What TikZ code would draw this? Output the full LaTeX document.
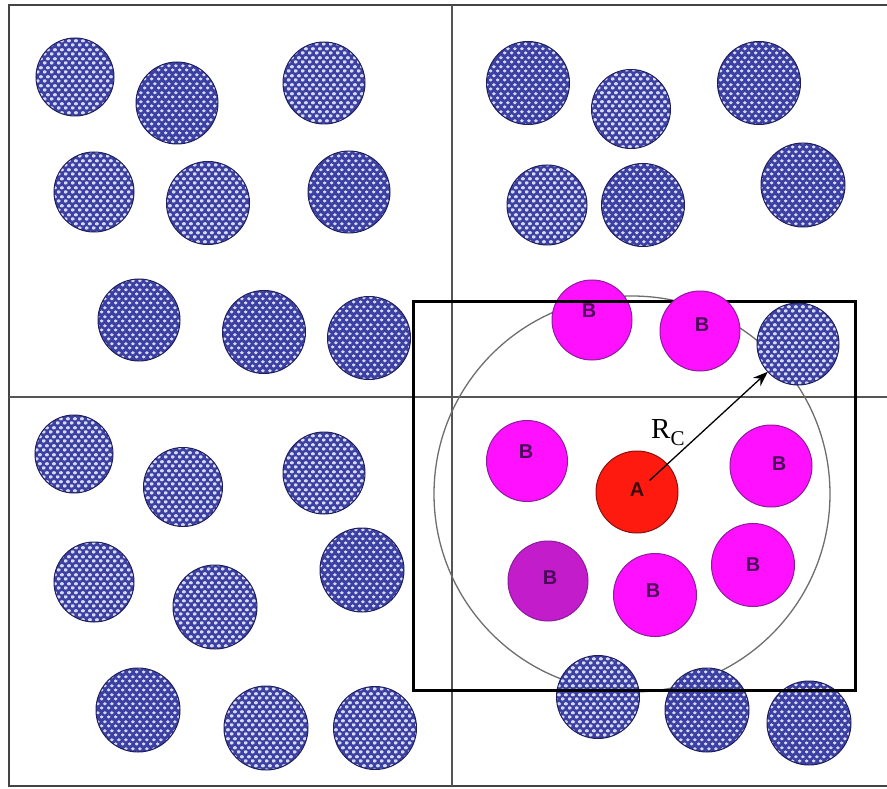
\documentclass[tikz,border=0pt]{standalone}
\usepackage{fontspec}
\newfontfamily\labfont{Liberation Sans}
\newfontfamily\rfont{Liberation Serif}
\usetikzlibrary{patterns.meta,arrows.meta}
\definecolor{navyc}{HTML}{3B40A2}
\definecolor{dotc}{HTML}{D8DAF2}
\definecolor{navyedge}{HTML}{1E1F5C}
\definecolor{magc}{HTML}{FF10FF}
\definecolor{magdark}{HTML}{C21CCB}
\definecolor{magedge}{HTML}{8C1C9C}
\definecolor{redc}{HTML}{FF1A10}
\definecolor{rededge}{HTML}{8A1010}
\definecolor{labc}{HTML}{4A0A58}
\definecolor{alab}{HTML}{3A0A10}
\definecolor{framec}{HTML}{444444}
\definecolor{divc}{HTML}{555555}
\definecolor{ringc}{HTML}{6E6E6E}
\tikzdeclarepattern{
  name=hexdots,
  type=uncolored,
  bounding box={(0pt,0pt) and (7.2pt,8.6pt)},
  tile size={(7.2pt,8.6pt)},
  code={
    \fill (1.8pt,2.15pt) ellipse [x radius=2.2pt, y radius=1.7pt];
    \fill (5.4pt,6.45pt) ellipse [x radius=2.2pt, y radius=1.7pt];
  }
}
\tikzset{
  ball/.style={circle, inner sep=0pt, outer sep=0pt, minimum size=#1,
    draw=navyedge, line width=1pt, preaction={fill=navyc},
    pattern=hexdots, pattern color=dotc},
  ball/.default=82pt,
  bball/.style={circle, inner sep=0pt, outer sep=0pt, minimum size=#1,
    fill=magc, draw=magedge, line width=1pt},
  bball/.default=82pt,
  aball/.style={circle, inner sep=0pt, outer sep=0pt, minimum size=#1,
    fill=redc, draw=rededge, line width=1pt},
  aball/.default=82pt,
  blab/.style={inner sep=0pt, text=labc, font=\labfont\bfseries\fontsize{20}{20}\selectfont},
  framestyle/.style={draw=framec, line width=2.6pt},
  divstyle/.style={draw=divc, line width=2pt},
  ringstyle/.style={draw=ringc, line width=1.3pt},
  boxstyle/.style={draw=black, line width=3pt},
  rarrow/.style={draw=black, line width=1.3pt, -{Stealth[length=15pt,width=11pt]}}
}
\begin{document}
\begin{tikzpicture}[x=1pt,y=-1pt]
\useasboundingbox (0,0) rectangle (887,789);
\fill[white] (0,0) rectangle (887,789);
% frame and dividers
\draw[framestyle] (892,5) -- (9,5) -- (9,786) -- (892,786);
\draw[divstyle] (452,5) -- (452,786);
\draw[divstyle] (9,397) -- (892,397);
% cutoff ring
\draw[ringstyle] (632,494) circle [radius=198pt];
% patterned particles
\node[ball=78pt] (p1) at (75,77) {};
\node[ball] (p2) at (177,103) {};
\node[ball] (p3) at (324,83) {};
\node[ball=80pt] (p4) at (94,192) {};
\node[ball=83pt] (p5) at (208,203) {};
\node[ball] (p6) at (349,192) {};
\node[ball] (p7) at (139,320) {};
\node[ball=83pt] (p8) at (264,332) {};
\node[ball=83pt] (p9) at (369,338) {};
\node[ball=83pt] (p10) at (528,83) {};
\node[ball=79pt] (p11) at (631,109) {};
\node[ball=83pt] (p12) at (759,83) {};
\node[ball=80pt] (p13) at (547,205) {};
\node[ball=83pt] (p14) at (643,205) {};
\node[ball=84pt] (p15) at (803,185) {};
\node[ball=82pt] (p16) at (798,344) {};
\node[ball=78pt] (p17) at (74,454) {};
\node[ball=79pt] (p18) at (183,487) {};
\node[ball=82pt] (p19) at (324,473) {};
\node[ball=80pt] (p20) at (94,582) {};
\node[ball=84pt] (p21) at (215,607) {};
\node[ball=84pt] (p22) at (362,570) {};
\node[ball=84pt] (p23) at (138,710) {};
\node[ball=84pt] (p24) at (266,728) {};
\node[ball=83pt] (p25) at (375,728) {};
\node[ball=83pt] (p26) at (598,697) {};
\node[ball=84pt] (p27) at (707,710) {};
\node[ball=84pt] (p28) at (809,723) {};
% inner particles
\node[bball=80pt] (b1) at (592,320) {};
\node[bball=81pt] (b3) at (527,461) {};
\node[aball=82pt] (A) at (637,492) {};
\node[bball=82pt] (b4) at (771,466) {};
\node[bball=80pt, fill=magdark] (b5) at (548,581) {};
\node[bball=83pt] (b6) at (655,595) {};
\node[bball=83pt] (b7) at (753,565) {};
% neighbourhood box
\draw[boxstyle] (413,301) rectangle (855,690);
\node[bball=80pt] (b2) at (700,331) {};
% labels
\node[blab] (lb1) at (589,311) {B};
\node[blab] (lb2) at (702,325) {B};
\node[blab] (lb3) at (526,452) {B};
\node[blab, text=alab] (la) at (637,490) {A};
\node[blab] (lb4) at (779,464) {B};
\node[blab] (lb5) at (550,578) {B};
\node[blab] (lb6) at (653,591) {B};
\node[blab] (lb7) at (753,565) {B};
% cutoff radius
\draw[rarrow, shorten <=17pt] (A.center) -- (p16);
\node[anchor=base west, inner sep=0pt] (rc) at (651,438)
  {\rfont\fontsize{29}{29}\selectfont R\raisebox{-7pt}{\fontsize{21}{21}\selectfont C}};
\end{tikzpicture}
\end{document}
